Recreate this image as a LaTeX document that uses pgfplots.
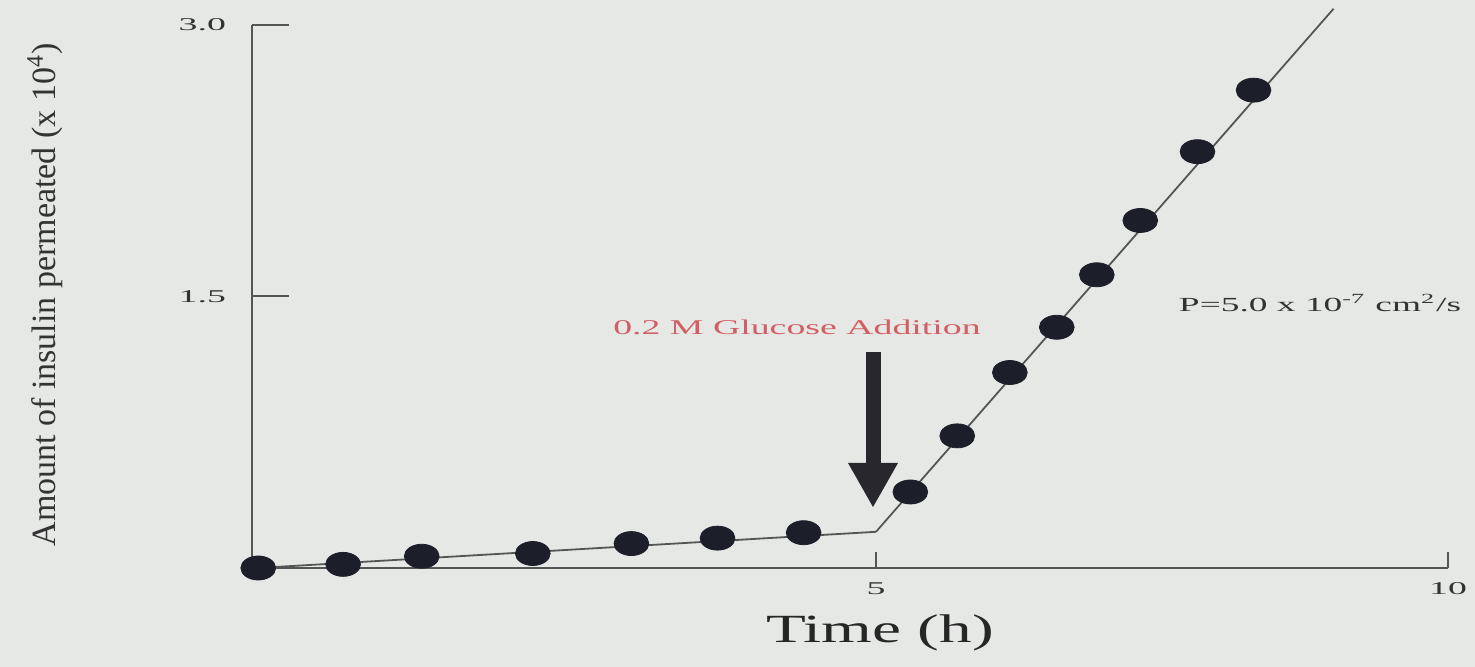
\documentclass[border=0pt]{standalone}
\usepackage{fontspec}
\setmainfont{Liberation Serif}
\usepackage{pgfplots}
\pgfplotsset{compat=1.18}
\definecolor{bg}{RGB}{230,232,230}
\definecolor{axisgray}{RGB}{85,85,85}
\definecolor{dotcol}{RGB}{28,30,42}
\definecolor{annred}{RGB}{210,95,100}
\definecolor{arrowcol}{RGB}{40,40,44}
\pgfplotstableread{
x y
0.05 0.00
0.73 0.02
1.36 0.065
2.25 0.08
3.04 0.135
3.73 0.165
4.42 0.195
5.30 0.42
5.71 0.73
6.17 1.08
6.58 1.33
6.93 1.62
7.31 1.92
7.81 2.30
8.30 2.64
}\pointdata
\begin{document}
\begin{tikzpicture}
\fill[bg] (0pt,0pt) rectangle (737.5pt,333.5pt);
\begin{axis}[
  at={(126pt,49.5pt)}, anchor=south west,
  scale only axis, width=598pt, height=271.5pt,
  x coord trafo/.code={\pgfmathparse{(#1<5)*1.090909*#1 + (#1>=5)*(#1+0.454545)}},
  xmin=0, xmax=10, ymin=0, ymax=3,
  axis x line*=bottom, axis y line*=left,
  axis line style={axisgray, line width=1pt},
  tick align=inside,
  xtick={5,10}, xticklabels={5,10},
  ytick={1.5,3.0}, yticklabels={1.5,3.0},
  xtick style={axisgray, line width=1pt, /pgfplots/major tick length=8pt},
  ytick style={axisgray, line width=1pt, /pgfplots/major tick length=18.5pt},
  /pgf/number format/assume math mode=true,
  xticklabel style={font=\fontsize{9}{10}\selectfont, text=black!80, xscale=2.1, anchor=north, inner sep=0pt, yshift=-7pt},
  yticklabel style={font=\fontsize{9}{10}\selectfont, text=black!80, xscale=2.1, anchor=east, inner sep=0pt, xshift=-6pt},
  clip=false,
]
\addplot[axisgray, line width=0.9pt] coordinates {(0.05,0) (5,0.2)};
\addplot[axisgray, line width=0.9pt] coordinates {(5,0.2) (9,3.09)};
\addplot[only marks, mark=*, mark size=6pt, mark options={xscale=1.45, fill=dotcol, draw=dotcol}] table[x=x,y=y] {\pointdata};
\end{axis}
% arrow
\fill[arrowcol] (432.75pt,157.5pt) rectangle (440.25pt,101pt);
\fill[arrowcol] (424pt,102pt) -- (449pt,102pt) -- (436.5pt,80pt) -- cycle;
% texts
\node[annred, font=\fontsize{10.5}{12}\selectfont, xscale=1.8] at (398.5pt,170pt) {0.2 M Glucose Addition};
\node[text=black!80, font=\fontsize{10}{12}\selectfont, xscale=1.87] at (660pt,182pt) {P=5.0 x 10\textsuperscript{-7} cm\textsuperscript{2}/s};
\node[text=black!85, font=\fontsize{20}{24}\selectfont, xscale=1.63] at (440pt,17pt) {Time (h)};
\node[text=black!80, font=\fontsize{17}{20}\selectfont, rotate=90] at (22.5pt,186pt) {Amount of insulin permeated (x 10\textsuperscript{4})};
\end{tikzpicture}
\end{document}
